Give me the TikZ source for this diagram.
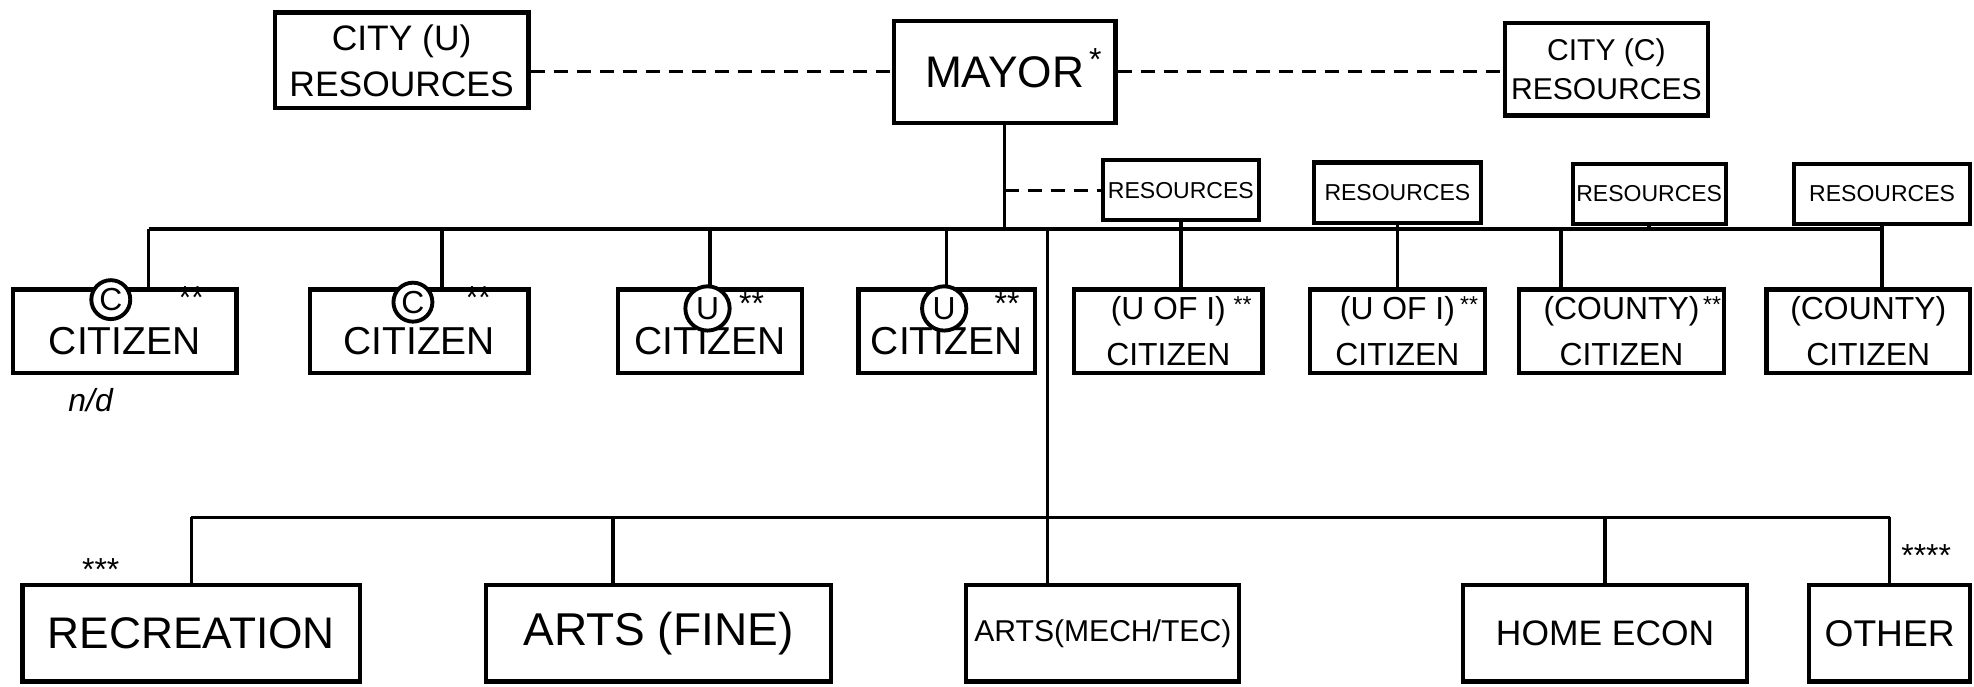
\documentclass[tikz,border=0pt]{standalone}
\usepackage{fontspec}
\setmainfont{Liberation Sans}

\begin{document}
\begin{tikzpicture}[x=0.0125cm, y=-0.0125cm,
    box/.style={draw, line width=1.2pt, inner sep=1pt, align=center},
    resbox/.style={box, minimum height=0.6cm, font=\fontsize{6.5}{7}\selectfont},
    citbox/.style={box, minimum height=0.825cm, font=\fontsize{11}{13}\selectfont,
        text height=13pt, text depth=0pt},
    citbox2/.style={box, minimum height=0.825cm, font=\fontsize{9}{13}\selectfont},
    subbox/.style={box, minimum height=0.96cm},
    link/.style={line width=1pt},
    dlink/.style={line width=0.8pt, dash pattern=on 4pt off 2.5pt},
    circ/.style={draw, circle, line width=1.1pt, inner sep=0.5pt, minimum size=11pt,
        font=\fontsize{9}{9}\selectfont},
    stars/.style={inner sep=0pt, font=\fontsize{9}{9}\selectfont},
    instars/.style={inner sep=0pt, font=\fontsize{6.5}{6.5}\selectfont}]
    \useasboundingbox (0,0) rectangle (1568,545);

    % horni rada
    \node[box, minimum width=2.52cm, minimum height=0.95cm, font=\fontsize{10}{13}\selectfont]
        (cityu) at (319,48) {CITY (U)\\RESOURCES};
    \node[box, minimum width=2.2cm, minimum height=1.01cm, font=\fontsize{12.5}{15}\selectfont]
        (mayor) at (798,57) {MAYOR};
    \node[stars] (mstar) at (870,47) {*};
    \node[box, minimum width=2.02cm, minimum height=0.92cm, font=\fontsize{8.5}{11}\selectfont]
        (cityc) at (1276,55) {CITY (C)\\RESOURCES};

    % zdroje
    \node[resbox, minimum width=1.55cm] (resA) at (938,151) {RESOURCES};
    \node[resbox, minimum width=1.66cm] (resB) at (1110,153) {RESOURCES};
    \node[resbox, minimum width=1.5cm] (resC) at (1310,154) {RESOURCES};
    \node[resbox, minimum width=1.75cm] (resD) at (1495,154) {RESOURCES};

    % obcane
    \node[citbox, minimum width=2.22cm] (cit1) at (99,263) {CITIZEN};
    \node[citbox, minimum width=2.17cm] (cit2) at (333,263) {CITIZEN};
    \node[citbox, minimum width=1.82cm] (cit3) at (564,263) {CITIZEN};
    \node[citbox, minimum width=1.75cm] (cit4) at (752,263) {CITIZEN};
    \node[citbox2, minimum width=1.87cm] (cit5) at (928,263) {(U OF I)\\CITIZEN};
    \node[citbox2, minimum width=1.74cm] (cit6) at (1110,263) {(U OF I)\\CITIZEN};
    \node[citbox2, minimum width=2.04cm] (cit7) at (1288,263) {(COUNTY)\\CITIZEN};
    \node[citbox2, minimum width=2.02cm] (cit8) at (1484,263) {(COUNTY)\\CITIZEN};

    % krouzky a hvezdicky
    \node[circ, fill=white] (cc1) at (88,238) {C};
    \node[circ, fill=white] (cc2) at (328,240) {C};
    \node[circ, fill=white, minimum size=12.5pt] (cu3) at (562,245) {U};
    \node[circ, fill=white, minimum size=12.5pt] (cu4) at (750,245) {U};
    \node[stars] (s1) at (152,236) {**};
    \node[stars] (s2) at (380,236) {**};
    \node[stars] (s3) at (597,241) {**};
    \node[stars] (s4) at (800,241) {**};
    \node[instars] (s5) at (987,242) {**};
    \node[instars] (s6) at (1167,242) {**};
    \node[instars] (s7) at (1360,242) {**};
    \node[font=\fontsize{9}{9}\selectfont\itshape] (nd) at (72,318) {n/d};

    % oddeleni
    \node[subbox, minimum width=3.35cm, font=\fontsize{12.5}{14}\selectfont]
        (rec) at (152,503) {RECREATION};
    \node[subbox, minimum width=3.42cm, font=\fontsize{13}{14}\selectfont]
        (artsf) at (523,503) {ARTS (FINE)};
    \node[subbox, minimum width=2.71cm, font=\fontsize{8.5}{10}\selectfont]
        (artsm) at (876,503) {ARTS(MECH/TEC)};
    \node[subbox, minimum width=2.82cm, font=\fontsize{10}{12}\selectfont]
        (home) at (1275,503) {HOME ECON};
    \node[subbox, minimum width=1.6cm, font=\fontsize{10.5}{12}\selectfont]
        (other) at (1501,503) {OTHER};
    \node[stars] (s8) at (80,452) {***};
    \node[stars] (s9) at (1530,441) {****};

    % body na carach
    \coordinate (top1) at (118,182);
    \coordinate (top2) at (351,182);
    \coordinate (top7) at (1240,182);
    \coordinate (hub) at (832,182);
    \coordinate (hubd) at (832,411);
    \coordinate (bot2) at (487,411);

    % carkovane spojnice
    \draw[dlink] (cityu.east |- mayor.west) -- (mayor.west);
    \draw[dlink] (mayor.east) -- (mayor.east -| cityc.west);
    \draw[dlink] (mayor.south |- resA.west) -- (resA.west);

    % horni vetev
    \draw[link] (mayor.south) -- (mayor.south |- top1);
    \draw[link] (top1) -- (resD.south |- top1);
    \draw[link] (top1) -- (top1 |- cit1.north);
    \draw[link] (top2) -- (top2 |- cit2.north);
    \draw[link] (cit3.north) -- (cit3.north |- top1);
    \draw[link] (cit4.north) -- (cit4.north |- top1);
    \draw[link] (resA.south) -- (resA.south |- cit5.north);
    \draw[link] (resB.south) -- (resB.south |- cit6.north);
    \draw[link] (resC.south) -- (resC.south |- top1);
    \draw[link] (top7) -- (top7 |- cit7.north);
    \draw[link] (resD.south) -- (resD.south |- cit8.north);

    % dolni vetev
    \draw[link] (hub) -- (hub |- artsm.north);
    \draw[link] (rec.north |- hubd) -- (other.north |- hubd);
    \draw[link] (rec.north) -- (rec.north |- hubd);
    \draw[link] (bot2) -- (bot2 |- artsf.north);
    \draw[link] (home.north) -- (home.north |- hubd);
    \draw[link] (other.north) -- (other.north |- hubd);
\end{tikzpicture}
\end{document}
